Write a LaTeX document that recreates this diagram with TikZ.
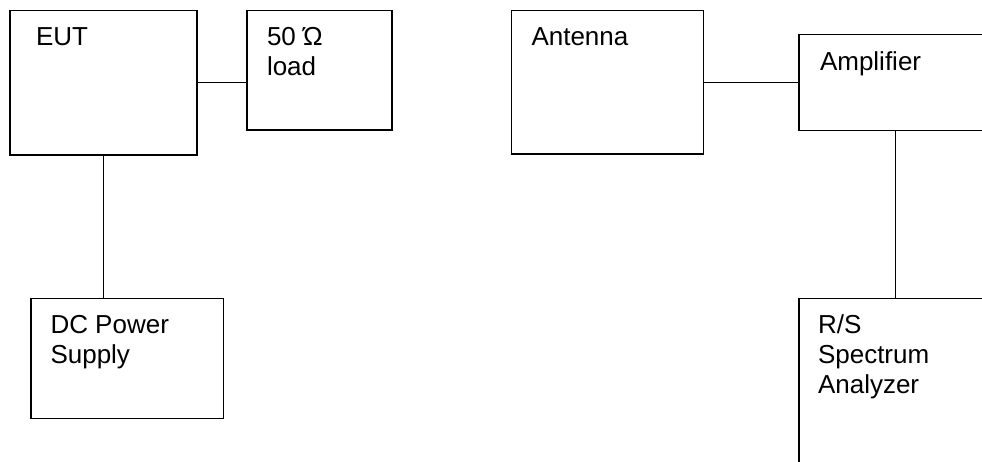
\documentclass[tikz,border=0pt]{standalone}
\usepackage{fontspec}
\setmainfont{Liberation Sans}
\begin{document}
\begin{tikzpicture}[x=1pt,y=-1pt,
  box/.style={draw,line width=1.4pt,rectangle,inner sep=0pt,outer sep=0pt,anchor=north west},
  lbl/.style={anchor=base west,inner sep=0pt,outer sep=0pt,font=\fontsize{26}{30}\selectfont},
  wire/.style={line width=1.4pt}]
\useasboundingbox (0,0) rectangle (982,462);
\clip (0,0) rectangle (982,462);
% boxes
\node[box,minimum width=187pt,minimum height=144.5pt] (eut) at (10,10.5) {};
\node[box,minimum width=145pt,minimum height=119.5pt] (load) at (247,10.5) {};
\node[box,minimum width=191.5pt,minimum height=143.5pt] (ant) at (511.7,10.7) {};
\node[box,minimum width=220pt,minimum height=96pt] (amp) at (799,34.3) {};
\node[box,minimum width=192.3pt,minimum height=120pt] (dc) at (31,298.3) {};
\node[box,minimum width=220pt,minimum height=200pt] (rs) at (799,298.3) {};
% labels
\node[lbl] (teut) at (36,46) {EUT};
\node[lbl] (tload) at (267,45.7) {\vtop{\hbox{50 Ώ}\hbox{load}}};
\node[lbl] (tant) at (531.5,45.7) {Antenna};
\node[lbl] (tamp) at (820,70.7) {Amplifier};
\node[lbl] (tdc) at (50.5,333.3) {\vtop{\hbox{DC Power}\hbox{Supply}}};
\node[lbl] (trs) at (818,333.3) {\vtop{\hbox{R/S}\hbox{Spectrum}\hbox{Analyzer}}};
% connectors
\draw[wire] (eut.east) -- (eut.east -| load.west);
\draw[wire] (ant.east) -- (ant.east -| amp.west);
\draw[wire] (eut.south) -- (eut.south |- dc.north);
\draw[wire] ([xshift=96.7pt]amp.south west) -- ([xshift=96.7pt]rs.north west);
\end{tikzpicture}
\end{document}
